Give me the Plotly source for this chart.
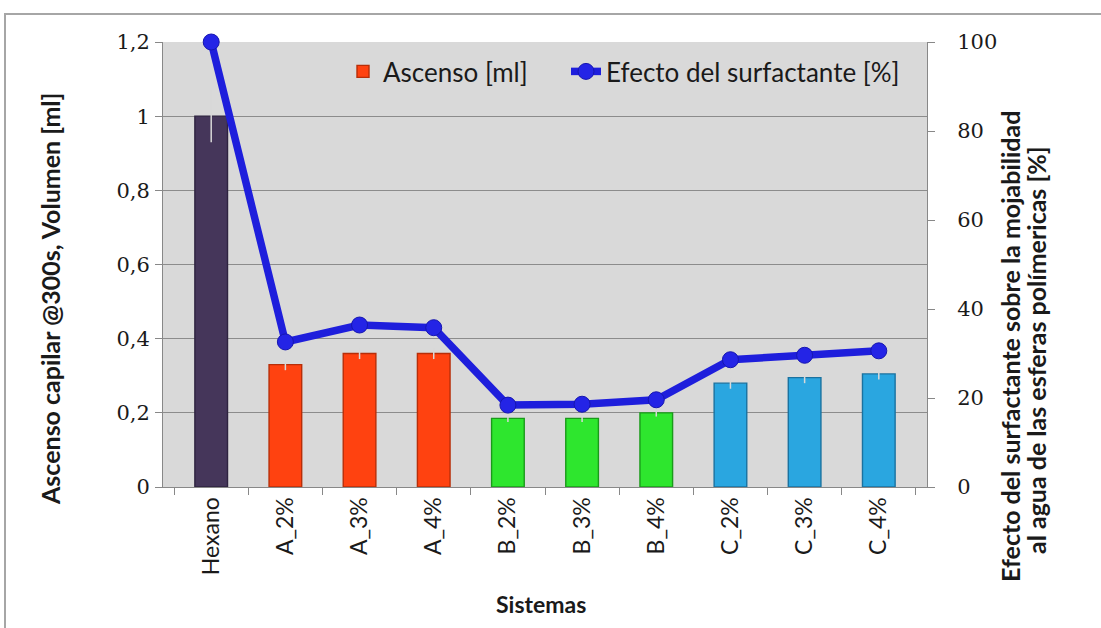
import plotly.graph_objects as go

# Systems tested and measured data
categories = ["Hexano", "A_2%", "A_3%", "A_4%", "B_2%", "B_3%", "B_4%", "C_2%", "C_3%", "C_4%"]
ascenso_ml = [1.00, 0.33, 0.36, 0.36, 0.185, 0.185, 0.20, 0.28, 0.295, 0.305]
ascenso_err = [0.07, 0.015, 0.015, 0.015, 0.01, 0.01, 0.01, 0.015, 0.015, 0.015]
efecto_pct = [100, 32.6, 36.4, 35.8, 18.4, 18.6, 19.6, 28.6, 29.6, 30.6]

# Bar groups: (slice of categories, fill colour, edge colour)
groups = [
    (slice(0, 1), "#45365A", "#2E2340"),
    (slice(1, 4), "#FF4210", "#B82E08"),
    (slice(4, 7), "#2EE62E", "#1A9A1A"),
    (slice(7, 10), "#2AA6E0", "#1A72A0"),
]

fig = go.Figure()

for i, (sl, fill, edge) in enumerate(groups):
    fig.add_trace(go.Bar(
        x=categories[sl],
        y=ascenso_ml[sl],
        name="Ascenso [ml]",
        legend="legend",
        legendgroup="ascenso",
        showlegend=(i == 1),
        width=0.44,
        marker=dict(color=fill, line=dict(color=edge, width=1.4)),
        error_y=dict(type="data", array=ascenso_err[sl], color="#D8D8D8",
                     thickness=1.5, width=0),
    ))

fig.add_trace(go.Scatter(
    x=categories,
    y=efecto_pct,
    name="Efecto del surfactante [%]",
    legend="legend2",
    yaxis="y2",
    mode="lines+markers",
    line=dict(color="#1E1EDC", width=7.5),
    marker=dict(color="#2424E6", size=16, line=dict(color="#1616B0", width=1)),
    cliponaxis=False,
))

L, R, T, B = 163, 927, 42, 487
W, H = R - L, B - T


def px(x):
    return (x - L) / W


def py(y):
    return (B - y) / H


sans = "Lato"
serif = "DejaVu Serif"
ink = "#1a1a1a"


def title_note(text, x, y, angle=-90, size=25):
    return dict(text=f"<b>{text}</b>", xref="paper", yref="paper",
                x=px(x), y=py(y), xanchor="center", yanchor="middle",
                textangle=angle, showarrow=False,
                font=dict(family=sans, size=size, color=ink))


def legend_box(x):
    return dict(
        orientation="h",
        x=px(x), y=py(48), xanchor="left", yanchor="top",
        bgcolor="rgba(0,0,0,0)",
        font=dict(family=sans, size=26, color=ink),
    )


fig.update_layout(
    width=1101,
    height=628,
    margin=dict(l=L, r=1101 - R, t=T, b=628 - B),
    paper_bgcolor="white",
    plot_bgcolor="#D9D9D9",
    barmode="overlay",
    separators=",.",
    showlegend=True,
    legend=legend_box(343),
    legend2=legend_box(566),
    xaxis=dict(
        type="category",
        categoryorder="array",
        categoryarray=categories,
        tickangle=-90,
        tickson="boundaries",
        ticks="outside",
        ticklen=7,
        tickcolor="#888888",
        showline=True,
        linecolor="#888888",
        linewidth=1,
        showgrid=False,
        tickfont=dict(family=sans, size=23, color=ink),
    ),
    yaxis=dict(
        range=[0, 1.2],
        dtick=0.2,
        ticks="outside",
        ticklen=7,
        tickcolor="#888888",
        showline=True,
        linecolor="#888888",
        showgrid=True,
        gridcolor="#8C8C8C",
        gridwidth=1,
        zeroline=False,
        ticklabelstandoff=1,
        tickfont=dict(family=serif, size=21, color=ink),
    ),
    yaxis2=dict(
        range=[0, 100],
        overlaying="y",
        side="right",
        dtick=20,
        ticks="outside",
        ticklen=7,
        tickcolor="#888888",
        showline=True,
        linecolor="#888888",
        showgrid=False,
        zeroline=False,
        ticklabelstandoff=18,
        tickfont=dict(family=serif, size=21, color=ink),
    ),
    annotations=[
        title_note("Ascenso capilar @300s, Volumen [ml]", 50, 299),
        title_note("Efecto del surfactante sobre la mojabilidad", 1010, 347),
        title_note("al agua de las esferas polímericas [%]", 1036, 350),
        title_note("Sistemas", 541, 604, angle=0, size=23),
    ],
    shapes=[
        dict(type="rect", xref="paper", yref="paper",
             x0=px(5), x1=px(1140), y0=py(680), y1=py(14),
             line=dict(color="#A6A6A6", width=2), fillcolor="rgba(0,0,0,0)",
             layer="below"),
    ],
)

fig.write_html("out.html")
